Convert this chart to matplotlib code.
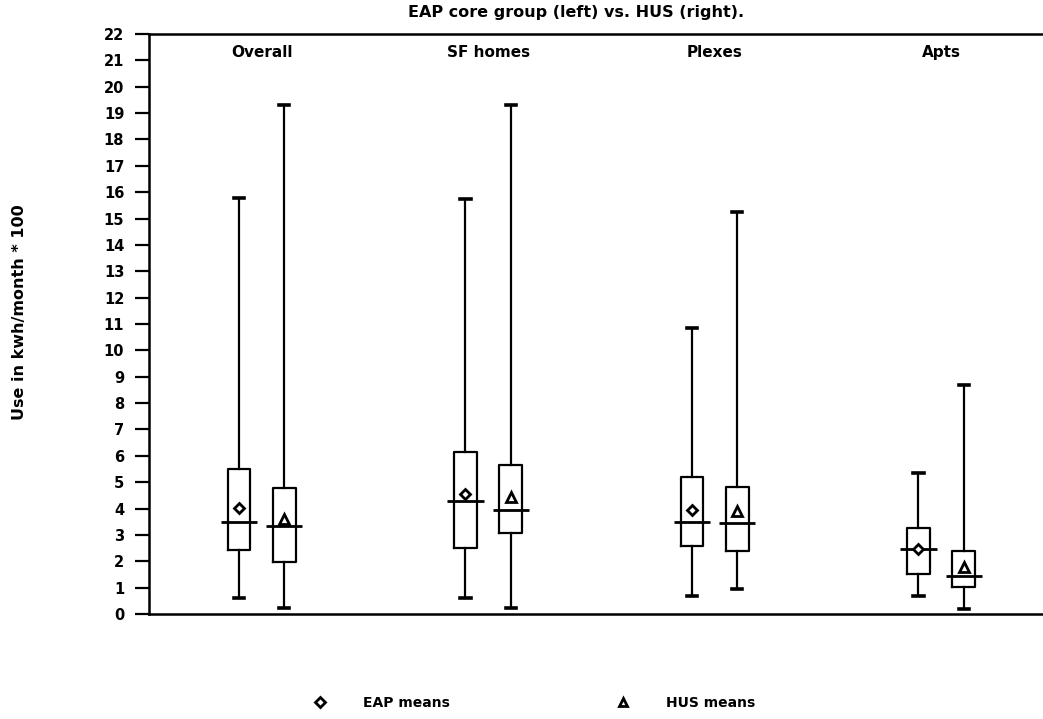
import matplotlib
matplotlib.use('Agg')
import matplotlib.pyplot as plt
from matplotlib.lines import Line2D
import numpy as np

# values (kwh/month * 100)
groups = ['Overall', 'SF homes', 'Plexes', 'Apts']

eap_low = [0.62, 0.62, 0.70, 0.70]
eap_q1 = [2.43, 2.52, 2.59, 1.51]
eap_med = [3.50, 4.29, 3.48, 2.45]
eap_q3 = [5.49, 6.16, 5.19, 3.25]
eap_high = [15.78, 15.75, 10.84, 5.34]
eap_mean = [4.01, 4.54, 3.95, 2.46]

hus_low = [0.24, 0.24, 0.95, 0.19]
hus_q1 = [1.96, 3.09, 2.39, 1.04]
hus_med = [3.34, 3.93, 3.44, 1.45]
hus_q3 = [4.79, 5.65, 4.82, 2.39]
hus_high = [19.32, 19.32, 15.23, 8.67]
hus_mean = [3.60, 4.45, 3.92, 1.80]

yticks = list(range(0, 23))

plt.rcParams['font.family'] = 'DejaVu Sans'
plt.rcParams['font.weight'] = 'bold'

fig = plt.figure(figsize=(10.43, 7.19), dpi=100)
ax = fig.add_axes([149.3/1043, 105/719, 1 - 149.3/1043, 580/719])

xc = np.arange(1, len(groups) + 1)
off = 0.1


def stats(lo, q1, med, q3, hi, mean):
    return [dict(whislo=a, q1=b, med=c, q3=d, whishi=e, mean=f, fliers=[])
            for a, b, c, d, e, f in zip(lo, q1, med, q3, hi, mean)]


lw = 1.6
common = dict(widths=0.1, capwidths=0.045, showmeans=True, patch_artist=False,
              boxprops=dict(color='black', linewidth=lw),
              whiskerprops=dict(color='black', linewidth=lw),
              capprops=dict(color='black', linewidth=2.6),
              medianprops=dict(linewidth=0))

ax.bxp(stats(eap_low, eap_q1, eap_med, eap_q3, eap_high, eap_mean), positions=xc - off,
       meanprops=dict(marker='D', markersize=5.5, markerfacecolor='white',
                      markeredgecolor='black', markeredgewidth=2),
       **common)
ax.bxp(stats(hus_low, hus_q1, hus_med, hus_q3, hus_high, hus_mean), positions=xc + off,
       meanprops=dict(marker='^', markersize=7, markerfacecolor='white',
                      markeredgecolor='black', markeredgewidth=2),
       **common)

# medians stick out past the box edges
ax.hlines(eap_med, xc - off - 0.08, xc - off + 0.08, color='black', linewidth=2)
ax.hlines(hus_med, xc + off - 0.08, xc + off + 0.08, color='black', linewidth=2)

for x, g in zip(xc, groups):
    ax.text(x, 21.3, g, ha='center', va='center', fontsize=11, fontweight='bold')

ax.set_xlim(0.504, 4.45)
ax.set_ylim(0, 22)
ax.set_yticks(yticks)
ax.set_yticklabels([str(t) for t in yticks], fontsize=10.5, fontweight='bold')
ax.set_xticks([])
ax.tick_params(axis='y', direction='out', length=10, width=1.6, pad=8)
for s in ['left', 'bottom', 'top']:
    ax.spines[s].set_linewidth(1.8)
ax.spines['right'].set_visible(False)

fig.text(576/1043, 1 - 12/719, 'EAP core group (left) vs. HUS (right).',
         ha='center', va='center', fontsize=11.5, fontweight='bold')
fig.text(20/1043, 1 - 312/719, 'Use in kwh/month * 100', rotation=90,
         ha='center', va='center', fontsize=11.5, fontweight='bold')

handles = [Line2D([], [], linestyle='none', marker='D', markersize=5, markerfacecolor='white',
                  markeredgecolor='black', markeredgewidth=2),
           Line2D([], [], linestyle='none', marker='^', markersize=6, markerfacecolor='white',
                  markeredgecolor='black', markeredgewidth=2)]
fig.legend(handles, ['EAP means', 'HUS means'], loc='center', ncol=2, frameon=False,
           bbox_to_anchor=(534/1043, 1 - 703/719), handlelength=1, handletextpad=2.6,
           columnspacing=12.0, prop=dict(size=10, weight='bold'))

fig.savefig('out.png', dpi=100)
